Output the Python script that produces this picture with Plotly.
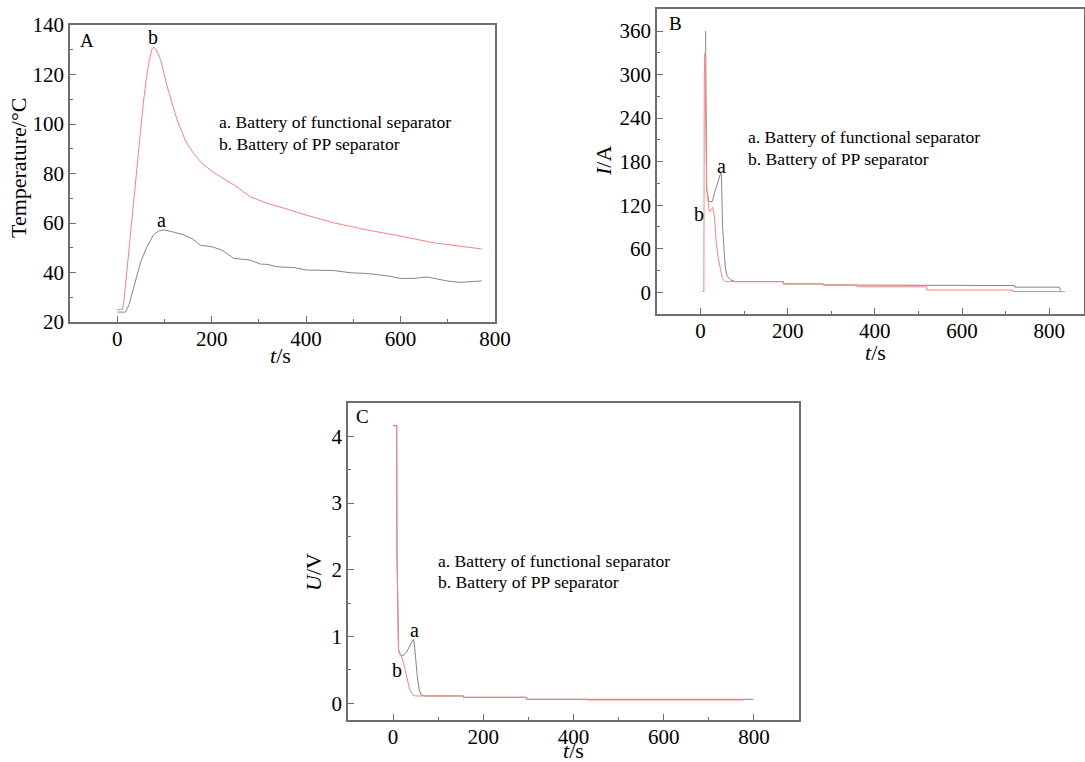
import plotly.graph_objects as go

W, H = 1085, 762
FONT = "Liberation Serif, Times New Roman, serif"
GRAY = "#858585"
RED = "#ff8080"
AX = "#6e6e6e"

# ---------------- Panel A : temperature ----------------
tA_a = [0, 17.6, 25, 35, 42, 50, 63, 77, 88, 99, 120, 141, 160, 176, 201, 222, 247, 282, 303,
        317, 339, 374, 400, 458, 494, 529, 574, 600, 628, 656, 698, 726, 772]
TA_a = [24, 24, 27, 34, 39.7, 44.5, 50.4, 55.3, 56.8, 57.2, 56.3, 55.2, 53.5, 51, 50.4, 49,
        45.7, 45, 43.4, 43.3, 42.3, 42, 41, 40.8, 39.9, 39.6, 38.6, 37.6, 37.6, 38.2, 36.6, 36, 36.6]
tA_b = [0, 11, 14, 25, 35, 45, 55, 62, 68, 74, 78, 84, 92, 106, 127, 145, 162, 180, 200, 220,
        247, 282, 317, 353, 400, 458, 529, 600, 670, 772]
TA_b = [25, 25, 28, 50, 70, 89, 108, 119, 126, 130.5, 131, 129.5, 126, 115, 101.5, 93, 88, 84,
        81, 78.5, 75.4, 70.6, 68, 66, 63.2, 60.1, 57.2, 54.7, 52, 49.5]

# ---------------- Panel B : current ----------------
tB_a = [11.5, 14, 19, 27, 34, 42, 46, 48, 50.4, 53, 56.5, 61, 69, 80, 190, 190, 282, 282, 359,
        359, 721, 721, 824, 826]
IB_a = [360, 141, 125, 125, 141, 157, 164, 160, 90.6, 68, 35, 21.6, 17, 14.6, 14.6, 11.5, 11.5,
        10, 10, 9.2, 9.2, 7, 7, 2]
tB_b = [4, 7.6, 8.5, 10, 11.5, 14, 19, 21, 28, 32, 36, 40, 46, 50, 57, 70, 190, 190, 282, 282,
        359, 359, 519, 519, 717, 717, 836]
IB_b = [1, 1, 300, 330, 250, 146, 114, 111, 117, 104, 68, 49, 31, 19, 14.6, 14.6, 14.6, 11.5,
        11.5, 10, 10, 7.5, 7.5, 3, 3, 1, 1]

# ---------------- Panel C : voltage ----------------
tC_a = [0, 8, 8.5, 10, 12, 16, 22, 30, 38, 45, 47, 50, 54, 58, 63, 70, 156, 156, 296, 296, 799]
UC_a = [4.16, 4.16, 2.3, 1.1, 0.8, 0.73, 0.71, 0.77, 0.87, 0.96, 0.9, 0.65, 0.38, 0.2, 0.12,
        0.11, 0.11, 0.09, 0.09, 0.06, 0.06]
tC_b = [0, 8, 8.5, 10, 12, 15, 20, 25, 30, 37, 45, 50, 156, 156, 296, 296, 430, 430, 779]
UC_b = [4.16, 4.16, 2.3, 1.1, 0.8, 0.74, 0.68, 0.55, 0.4, 0.2, 0.12, 0.11, 0.11, 0.09, 0.09,
        0.06, 0.06, 0.05, 0.05]

legend_a = "a. Battery of functional separator"
legend_b = "b. Battery of PP separator"

fig = go.Figure()
for xa, ya, (ta, va), (tb, vb) in [
    ("x", "y", (tA_a, TA_a), (tA_b, TA_b)),
    ("x2", "y2", (tB_a, IB_a), (tB_b, IB_b)),
    ("x3", "y3", (tC_a, UC_a), (tC_b, UC_b)),
]:
    fig.add_trace(go.Scatter(x=ta, y=va, xaxis=xa, yaxis=ya, mode="lines",
                             line=dict(color=GRAY, width=1), showlegend=False))
    fig.add_trace(go.Scatter(x=tb, y=vb, xaxis=xa, yaxis=ya, mode="lines",
                             line=dict(color=RED, width=1), showlegend=False))


def fx(p):
    return p / W


def fy(p):
    return 1 - p / H


def axis(domain, rng, dtick, minor_dtick, anchor, standoff=0):
    return dict(domain=domain, range=rng, anchor=anchor, automargin=False, showline=True,
                linecolor=AX, linewidth=1.5, mirror=True, ticks="inside", ticklen=6,
                tickwidth=1.2, tickcolor=AX, showgrid=False, zeroline=False, tick0=0,
                dtick=dtick, ticklabelstandoff=standoff,
                tickfont=dict(family=FONT, size=21, color="black"),
                minor=dict(ticks="inside", ticklen=3.5, tickwidth=1, tickcolor=AX,
                           dtick=minor_dtick, tick0=0, showgrid=False))


fig.update_layout(
    width=W, height=H, margin=dict(l=0, r=0, t=0, b=0, autoexpand=False),
    paper_bgcolor="white", plot_bgcolor="white", showlegend=False,
    font=dict(family=FONT, color="black"),
    xaxis=axis([fx(70), fx(495)], [-100, 800], 200, 100, "y", -3),
    yaxis=axis([fy(322), fy(25)], [20, 140], 20, 10, "x"),
    xaxis2=axis([fx(657), fx(1084)], [-100, 880], 200, 100, "y2", -3),
    yaxis2=axis([fy(314), fy(9.3)], [-30, 390], 60, 30, "x2"),
    xaxis3=axis([fx(348), fx(799)], [-100, 900], 200, 100, "y3", -3),
    yaxis3=axis([fy(720), fy(403)], [-0.25, 4.5], 1, 0.5, "x3"),
)

ann = []


def text(x, y, s, size, xanchor="center", angle=0):
    ann.append(dict(x=fx(x), y=fy(y), xref="paper", yref="paper", text=s, showarrow=False,
                    xanchor=xanchor, yanchor="middle", textangle=angle,
                    font=dict(family=FONT, size=size, color="black")))


# Panel A texts
text(87, 41, "A", 19)
text(153, 37, "b", 20)
text(161, 220, "a", 20)
text(217, 122, legend_a, 17.6, "left")
text(217, 144, legend_b, 17.6, "left")
text(280, 355, "<i>t</i>/s", 22)
text(18, 168, "Temperature/°C", 22, angle=-90)

# Panel B texts
text(675, 23, "B", 19)
text(721, 166, "a", 20)
text(699, 214, "b", 20)
text(746, 137, legend_a, 17.6, "left")
text(746, 159, legend_b, 17.6, "left")
text(875, 352, "<i>t</i>/s", 22)
text(603, 161, "<i>I</i>/A", 22, angle=-90)

# Panel C texts
text(362, 416, "C", 19)
text(414, 630, "a", 20)
text(397, 670, "b", 20)
text(436, 561, legend_a, 17.6, "left")
text(436, 582, legend_b, 17.6, "left")
text(573, 750, "<i>t</i>/s", 22)
text(313, 572, "<i>U</i>/V", 22, angle=-90)

fig.update_layout(annotations=ann)
fig.write_html("out.html")
